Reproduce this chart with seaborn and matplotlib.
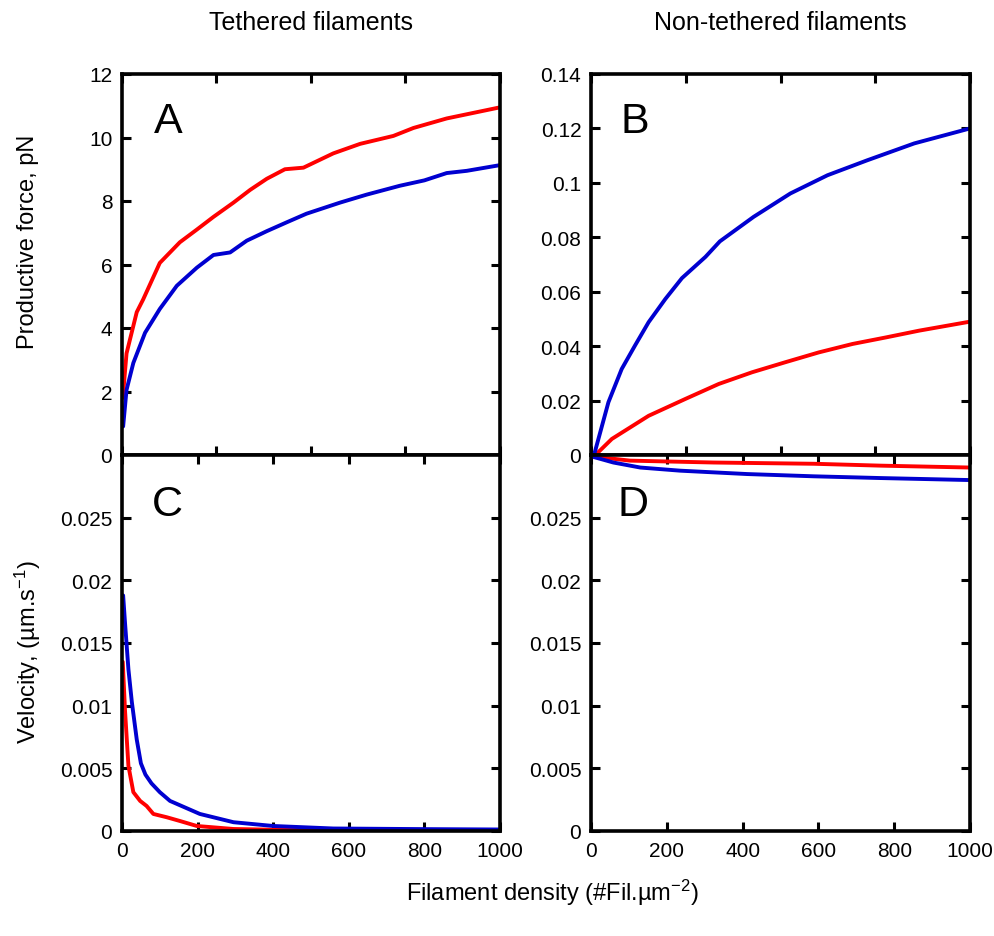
"""Productive force and velocity vs filament density, tethered vs non-tethered."""

import matplotlib
matplotlib.use("Agg")
import matplotlib.pyplot as plt
import matplotlib.ticker as mticker
import pandas as pd
import seaborn as sns

W, H = 995, 937
RED = "#ff0000"
BLUE = "#0000d0"

# Panel A: tethered, productive force (pN)
a_red_x = [2, 12, 39, 56, 100, 153, 198, 242, 295, 339, 383, 431, 480, 559, 630, 718, 771, 859, 1000]
a_red_y = [1.8, 3.2, 4.5, 4.9, 6.05, 6.7, 7.1, 7.5, 7.95, 8.35, 8.7, 9.0, 9.05, 9.5, 9.8, 10.05, 10.3, 10.6, 10.95]
a_blue_x = [3, 12, 30, 61, 100, 145, 198, 242, 286, 330, 383, 436, 488, 577, 647, 735, 800, 859, 912, 1000]
a_blue_y = [0.9, 2.05, 2.9, 3.85, 4.6, 5.33, 5.9, 6.3, 6.38, 6.75, 7.05, 7.33, 7.6, 7.95, 8.2, 8.48, 8.65, 8.88, 8.95, 9.13]

# Panel B: non-tethered, productive force (pN)
b_red_x = [8, 19, 55, 152, 249, 337, 425, 513, 601, 690, 778, 866, 1000]
b_red_y = [0.0, 0.001, 0.0059, 0.0144, 0.0206, 0.0261, 0.0304, 0.0341, 0.0377, 0.0408, 0.0432, 0.0457, 0.049]
b_blue_x = [4, 10, 46, 81, 116, 152, 196, 240, 302, 340, 429, 526, 624, 729, 853, 1000]
b_blue_y = [0.0, 0.001, 0.0194, 0.0316, 0.0402, 0.0488, 0.0573, 0.065, 0.0728, 0.0785, 0.0875,
            0.0961, 0.1028, 0.1083, 0.1145, 0.12]

# Panel C: tethered, velocity (um/s)
c_red_x = [2, 8, 17, 30, 48, 65, 83, 118, 153, 198, 295, 400, 600, 1000]
c_red_y = [0.0135, 0.0096, 0.0052, 0.0031, 0.0024, 0.002, 0.00136, 0.0011, 0.0008, 0.0004,
           0.00016, 0.0001, 0.00005, 0.00003]
c_blue_x = [3, 8, 17, 26, 39, 50, 62, 78, 100, 127, 206, 295, 400, 559, 800, 1000]
c_blue_y = [0.0188, 0.0166, 0.0129, 0.0103, 0.0073, 0.0054, 0.0045, 0.0038, 0.0031, 0.0024, 0.00136,
            0.0007, 0.0004, 0.0002, 0.00015, 0.00012]

# Panel D: non-tethered, velocity (as drawn on the axis)
d_red_x = [0, 103, 324, 588, 765, 1000]
d_red_y = [0.0299, 0.02955, 0.0294, 0.0293, 0.02915, 0.029]
d_blue_x = [0, 59, 130, 235, 412, 588, 765, 1000]
d_blue_y = [0.0299, 0.0294, 0.029, 0.02875, 0.02848, 0.0283, 0.02816, 0.028]

force_ticks_a = [0, 2, 4, 6, 8, 10, 12]
force_ticks_b = [0, 0.02, 0.04, 0.06, 0.08, 0.1, 0.12, 0.14]
vel_ticks = [0, 0.005, 0.01, 0.015, 0.02, 0.025]
top_xticks = [0, 250, 500, 750, 1000]
bottom_xticks = [0, 200, 400, 600, 800, 1000]

sns.set_theme(style="ticks")
plt.rcParams["font.family"] = ["Liberation Sans", "DejaVu Sans"]
plt.rcParams["mathtext.default"] = "regular"
plt.rcParams["text.color"] = "black"
plt.rcParams["axes.linewidth"] = 2.6


def add_axes_px(fig, left, top, right, bottom):
    return fig.add_axes([left / W, 1 - bottom / H, (right - left) / W, (bottom - top) / H])


def style_axes(ax, xticks, yticks, ylim, xlabels):
    ax.set_xlim(0, 1000)
    ax.set_ylim(*ylim)
    ax.set_xticks(xticks)
    ax.set_yticks(yticks)
    ax.yaxis.set_major_formatter(mticker.FuncFormatter(lambda v, _: f"{v:g}"))
    ax.xaxis.set_major_formatter(mticker.FuncFormatter(lambda v, _: f"{v:g}"))
    ax.tick_params(direction="in", length=6.5, width=2.2, labelsize=15, colors="black",
                   labelcolor="black", top=True, right=True, labelbottom=xlabels)
    ax.tick_params(axis="y", pad=7)
    ax.tick_params(axis="x", pad=7)
    ax.set_xlabel("")
    ax.set_ylabel("")
    for sp in ax.spines.values():
        sp.set_color("black")
        sp.set_linewidth(2.6)
        sp.set_zorder(5)


def draw(ax, series):
    for xs, ys, col in series:
        df = pd.DataFrame({"x": xs, "y": ys})
        sns.lineplot(data=df, x="x", y="y", color=col, linewidth=2.8, ax=ax, legend=False)


fig = plt.figure(figsize=(W / 100, H / 100), dpi=100)
ax_a = add_axes_px(fig, 122, 75, 500, 456)
ax_b = add_axes_px(fig, 591, 75, 970, 456)
ax_c = add_axes_px(fig, 122, 456, 500, 832)
ax_d = add_axes_px(fig, 591, 456, 970, 832)

draw(ax_a, [(a_red_x, a_red_y, RED), (a_blue_x, a_blue_y, BLUE)])
draw(ax_b, [(b_red_x, b_red_y, RED), (b_blue_x, b_blue_y, BLUE)])
draw(ax_c, [(c_red_x, c_red_y, RED), (c_blue_x, c_blue_y, BLUE)])
draw(ax_d, [(d_red_x, d_red_y, RED), (d_blue_x, d_blue_y, BLUE)])

style_axes(ax_a, top_xticks, force_ticks_a, (0, 12), False)
style_axes(ax_b, top_xticks, force_ticks_b, (0, 0.14), False)
style_axes(ax_c, bottom_xticks, vel_ticks, (0, 0.03), True)
style_axes(ax_d, bottom_xticks, vel_ticks, (0, 0.03), True)

for ax, letter, lx, ly in [(ax_a, "A", 0.122, 0.877), (ax_b, "B", 0.115, 0.877),
                           (ax_c, "C", 0.119, 0.870), (ax_d, "D", 0.111, 0.870)]:
    ax.text(lx, ly, letter, transform=ax.transAxes, fontsize=31, ha="center", va="center",
            color="black")

fig.text(311 / W, 1 - 29.5 / H, "Tethered filaments", fontsize=18, ha="center", va="baseline")
fig.text(780 / W, 1 - 29.5 / H, "Non-tethered filaments", fontsize=18, ha="center", va="baseline")
fig.text(28 / W, 1 - 242 / H, "Productive force, pN", fontsize=17, rotation=90,
         ha="center", va="center")
fig.text(28 / W, 1 - 652 / H, r"Velocity, (µm.s$^{-1}$)", fontsize=17, rotation=90,
         ha="center", va="center")
fig.text(552 / W, 1 - 893 / H, r"Filament density (#Fil.µm$^{-2}$)", fontsize=17,
         ha="center", va="center")

fig.savefig("out.png", dpi=100, facecolor="white")
plt.close(fig)
